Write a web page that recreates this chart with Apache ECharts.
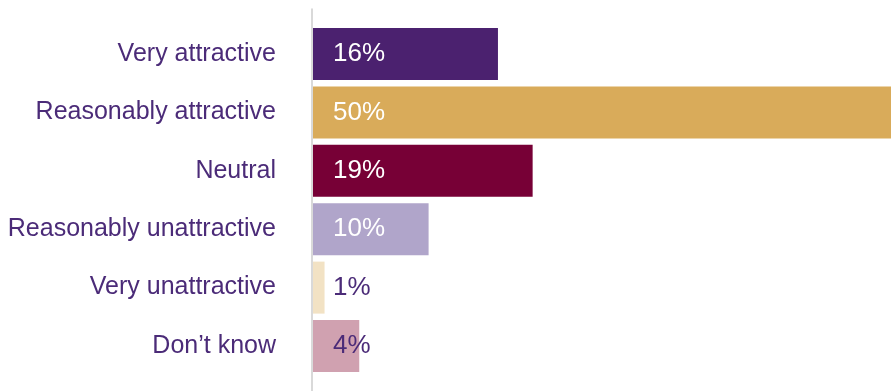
<!DOCTYPE html>
<html>
<head>
<meta charset="utf-8">
<script src="https://cdn.jsdelivr.net/npm/echarts@6/dist/echarts.min.js"></script>
<style>
  html, body { margin: 0; padding: 0; background: #ffffff; }
  #chart { width: 891px; height: 391px; }
</style>
</head>
<body>
<div id="chart"></div>
<script>
// Survey responses: how attractive the proposition is
const categories = ['Very attractive', 'Reasonably attractive', 'Neutral', 'Reasonably unattractive', 'Very unattractive', 'Don\u2019t know'];
const values = [16, 50, 19, 10, 1, 4];
const barColors = ['#4b216f', '#d9ab5a', '#770036', '#b0a5ca', '#f2e2c4', '#d0a1b0'];
const labelColors = ['#ffffff', '#ffffff', '#ffffff', '#ffffff', '#4b2b78', '#4b2b78'];

const textPurple = '#4b2b78';
const chart = echarts.init(document.getElementById('chart'), null, { renderer: 'canvas' });

chart.setOption({
  animation: false,
  backgroundColor: '#ffffff',
  grid: [
    { left: 313, right: 0, top: 24.8, bottom: 15.8, containLabel: false },
    // thin grid used only to draw the full-height vertical baseline
    { left: 312, width: 1, top: 9, bottom: 0 }
  ],
  xAxis: [
    { gridIndex: 0, type: 'value', min: 0, max: 50, show: false },
    { gridIndex: 1, type: 'value', min: 0, max: 1, show: false }
  ],
  yAxis: [
    {
      gridIndex: 0,
      type: 'category',
      data: categories,
      inverse: true,
      axisLine: { show: false },
      axisTick: { show: false },
      splitLine: { show: false },
      axisLabel: {
        margin: 37,
        color: textPurple,
        fontFamily: 'Liberation Sans, Arial, sans-serif',
        fontSize: 25
      }
    },
    {
      gridIndex: 1,
      type: 'value',
      min: 0,
      max: 1,
      axisLine: { show: true, lineStyle: { color: '#cccccc', width: 1.5 } },
      axisTick: { show: false },
      axisLabel: { show: false },
      splitLine: { show: false }
    }
  ],
  series: [
    {
      type: 'bar',
      xAxisIndex: 0,
      yAxisIndex: 0,
      barWidth: 52,
      data: values.map((v, i) => ({
        value: v,
        itemStyle: { color: barColors[i] },
        label: { color: labelColors[i] }
      })),
      label: {
        show: true,
        position: 'insideLeft',
        distance: 20,
        formatter: '{c}%',
        fontFamily: 'Liberation Sans, Arial, sans-serif',
        fontSize: 26,
        fontWeight: 300
      }
    }
  ]
});
</script>
</body>
</html>
